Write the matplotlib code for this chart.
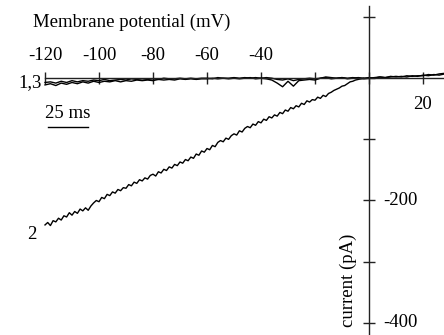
import numpy as np
import matplotlib
matplotlib.use("Agg")
import matplotlib.pyplot as plt

plt.rcParams['font.family'] = ['Liberation Serif', 'DejaVu Serif']

# ---- data ----
v13 = np.arange(-120, 29, 2)
trace1 = [-11, -9, -12, -8, -10, -7, -9, -6, -8, -5,
          -7, -5, -6, -4, -6, -4, -5, -3, -4, -3,
          -4, -2, -3, -2, -3, -1, -2, -1, -2, -1,
          -1, 0, -1, 0, -1, 0, -1, 0, 1, -1,
          0, -1, -3, -8, -14, -5, -13, -4, -3, -2,
          -3, 0, 2, 1, 0, 1, 0, 1, 0, -1,
          0, 1, 2, 1, 3, 2, 3, 2, 4, 3,
          5, 4, 6, 5, 7]
trace3 = [-7, -6, -8, -5, -7, -4, -6, -4, -5, -3,
          -4, -2, -4, -3, -2, -3, -1, -2, -1, -2,
          -1, -2, 0, -1, -1, 0, -1, 0, -1, 0,
          0, -1, 1, 0, 0, 1, 0, 1, 0, 1,
          0, 1, 0, -2, -3, -1, -4, -2, -1, 0,
          -1, 0, 1, -1, 0, 1, -1, 0, 1, 0,
          1, 0, 2, 1, 2, 3, 2, 4, 3, 4,
          4, 6, 5, 7, 8]
v2 = np.arange(-120, -1, 1)
trace2 = [-240, -236, -241, -233, -235, -229, -232, -225, -227, -220,
          -224, -218, -221, -214, -217, -212, -216, -209, -204, -200,
          -202, -195, -197, -190, -192, -186, -188, -182, -184, -179,
          -180, -174, -176, -170, -172, -166, -168, -163, -165, -159,
          -157, -160, -153, -155, -149, -151, -145, -147, -141, -143,
          -137, -139, -133, -135, -129, -131, -124, -126, -119, -121,
          -115, -117, -110, -112, -105, -102, -104, -98, -100, -94,
          -91, -93, -86, -88, -82, -79, -81, -75, -77, -71,
          -73, -67, -69, -63, -65, -60, -62, -56, -58, -52,
          -54, -48, -50, -45, -47, -41, -43, -37, -39, -35,
          -36, -31, -33, -28, -30, -25, -23, -20, -18, -16,
          -13, -12, -9, -6, -5, -3, -2, -1, 0]

xticks = [-120, -100, -80, -60, -40, -20, 0, 20]
xlabels = {-120: "-120", -100: "-100", -80: "-80", -60: "-60", -40: "-40", 20: "20"}
yticks = [100, 0, -100, -200, -300, -400]
ylabels = {-200: "-200", -400: "-400"}

FS = 13.5
fig = plt.figure(figsize=(4.44, 3.35), dpi=100)
ax = fig.add_axes([0, 0, 1, 1])
ax.set_xlim(-136.67, 27.78)
ax.set_ylim(-420.0, 127.9)

for s in ['top', 'right']:
    ax.spines[s].set_visible(False)
ax.spines['left'].set_position(('data', 0))
ax.spines['bottom'].set_position(('data', 0))
ax.spines['left'].set_bounds(-420, 118)
ax.spines['bottom'].set_bounds(-120, 27.78)
for s in ['left', 'bottom']:
    ax.spines[s].set_linewidth(1.0)
    ax.spines[s].set_color('#222222')

ax.set_xticks(xticks)
ax.set_yticks(yticks)
ax.set_xticklabels([])
ax.set_yticklabels([])
ax.tick_params(axis='both', direction='inout', length=8, width=1.0, color='#222222')

for t, lab in xlabels.items():
    if t < 0:
        ax.annotate(lab, (t, 0), xytext=(0, 10), textcoords='offset points',
                    ha='center', va='bottom', fontsize=FS)
    else:
        ax.annotate(lab, (t, 0), xytext=(0, -13), textcoords='offset points',
                    ha='center', va='top', fontsize=FS)
for t, lab in ylabels.items():
    ax.annotate(lab, (0, t), xytext=(10, 0), textcoords='offset points',
                ha='left', va='center', fontsize=FS)

ax.plot(v13, trace1, color='black', lw=1.0)
ax.plot(v13, trace3, color='black', lw=1.0)
ax.plot(v2, trace2, color='black', lw=1.0)

ax.text(-124.4, 92, "Membrane potential (mV)", ha='left', va='center', fontsize=FS)
ax.text(-7.8, -330, "current (pA)", rotation=90, ha='center', va='center', fontsize=FS)
ax.text(-121.3, -6.6, "1,3", ha='right', va='center', fontsize=FS)
ax.text(-123.3, -255, "2", ha='right', va='center', fontsize=FS)

# 25 ms scale bar
ax.plot([-118.9, -104.1], [-80, -80], color='black', lw=1.0)
ax.text(-111.5, -57, "25 ms", ha='center', va='center', fontsize=FS)

fig.savefig("out.png", dpi=100)
